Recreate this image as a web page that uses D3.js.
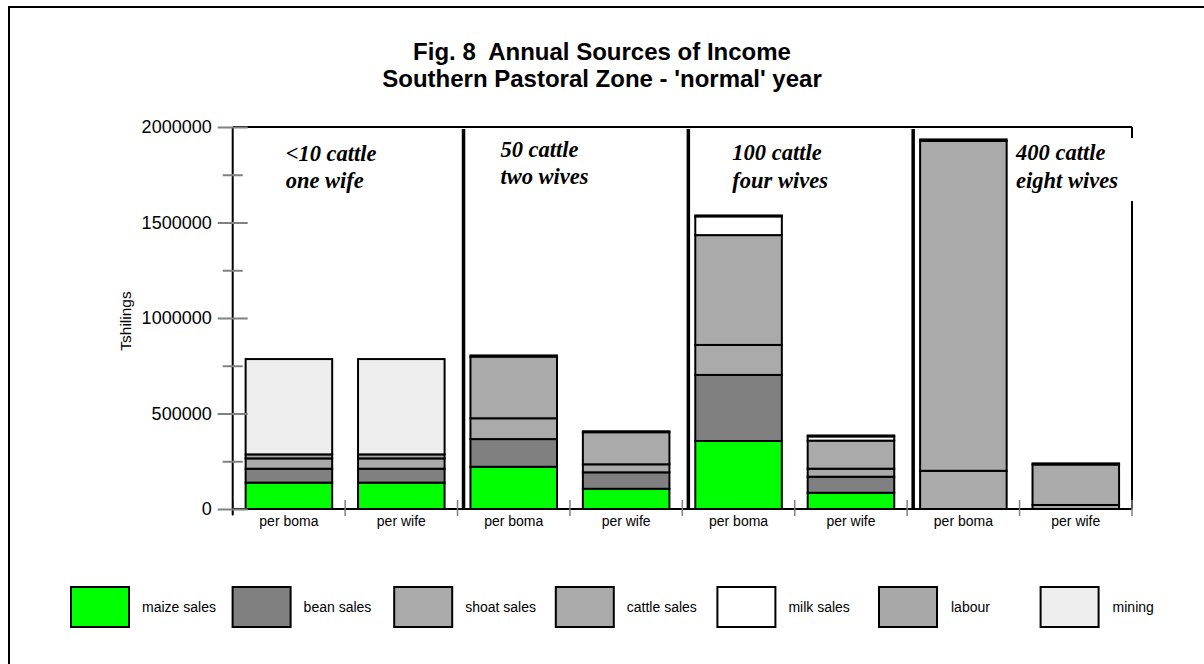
<!DOCTYPE html>
<html>
<head>
<meta charset="utf-8">
<script src="https://cdn.jsdelivr.net/npm/d3@7"></script>
<style>
  html, body { margin: 0; padding: 0; background: #fff; }
  svg { display: block; }
</style>
</head>
<body>
<svg id="chart" width="1204" height="664"></svg>
<script>
// ---------------- data ----------------
const titleLines = ["Fig. 8  Annual Sources of Income", "Southern Pastoral Zone - 'normal' year"];
const yAxisLabel = "Tshilings";
const categories = ["g1-boma", "g1-wife", "g2-boma", "g2-wife", "g3-boma", "g3-wife", "g4-boma", "g4-wife"];
const tickLabels = ["per boma", "per wife", "per boma", "per wife", "per boma", "per wife", "per boma", "per wife"];
const groupLabels = [["<10 cattle", "one wife"], ["50 cattle", "two wives"], ["100 cattle", "four wives"], ["400 cattle", "eight wives"]];
const seriesNames = ["maize sales", "bean sales", "shoat sales", "cattle sales", "milk sales", "labour", "mining"];
const maizeSales  = [138000, 138000, 221000, 106000, 356000, 85000, 0, 0];
const beanSales   = [73000, 73000, 145000, 86000, 346000, 84000, 0, 0];
const shoatSales  = [54000, 54000, 109000, 42000, 157000, 42000, 200000, 21000];
const cattleSales = [0, 0, 323000, 168000, 575000, 147000, 1727000, 212000];
const milkSales   = [0, 0, 6000, 5000, 98000, 22000, 8000, 6000];
const labour      = [21000, 21000, 0, 0, 5000, 5000, 0, 0];
const mining      = [499000, 499000, 0, 0, 0, 0, 0, 0];
const majorTicks = [0, 500000, 1000000, 1500000, 2000000];
const minorTicks = [250000, 750000, 1250000, 1750000];

// ---------------- styles / layout ----------------
const colors = ["#00ff00", "#808080", "#aaaaaa", "#aaaaaa", "#ffffff", "#a8a8a8", "#eeeeee"];
const sans = "'Liberation Sans', Arial, sans-serif";
const serif = "'Liberation Serif', 'Times New Roman', serif";
const plot = { left: 232.7, right: 1132, top: 127, bottom: 509 };
// annotation placement (offset from first bar of group, baselines)
const groupLabelLayout = [
  { dx: 40, y1: 161, y2: 188 },
  { dx: 30, y1: 157, y2: 184 },
  { dx: 37, y1: 160, y2: 188 },
  { dx: 96, y1: 160, y2: 188 }
];

const svg = d3.select("#chart");

// outer frame (left and top visible)
svg.append("path")
  .attr("d", "M9,664 V7 H1204")
  .attr("fill", "none").attr("stroke", "#000").attr("stroke-width", 2);

// title
svg.append("g").selectAll("text").data(titleLines).join("text")
  .attr("x", 602).attr("y", (d, i) => 60 + i * 27)
  .attr("text-anchor", "middle")
  .style("white-space", "pre")
  .attr("font-family", sans).attr("font-weight", "bold").attr("font-size", 24)
  .text(d => d);

// scales
const x = d3.scaleBand().domain(categories).range([plot.left, plot.right])
  .paddingInner(0.23).paddingOuter(0.115);
const y = d3.scaleLinear().domain([0, 2000000]).range([plot.bottom, plot.top]);

// stack
const valueArrays = [maizeSales, beanSales, shoatSales, cattleSales, milkSales, labour, mining];
const table = categories.map((c, i) => {
  const row = { cat: c };
  seriesNames.forEach((s, k) => row[s] = valueArrays[k][i]);
  return row;
});
const stacked = d3.stack().keys(seriesNames)(table);

// plot frame: top and right lines
svg.append("line").attr("x1", plot.left).attr("x2", plot.right)
  .attr("y1", y(2000000)).attr("y2", y(2000000))
  .attr("stroke", "#000").attr("stroke-width", 2);
svg.append("line").attr("x1", plot.right).attr("x2", plot.right)
  .attr("y1", y(2000000)).attr("y2", y(0))
  .attr("stroke", "#000").attr("stroke-width", 2);

// group separators
const step = x.step();
const boundary = c => x(c) - step * x.paddingInner() / 2;
[2, 4, 6].forEach(i => {
  const bx = boundary(categories[i]) + 6;
  svg.append("line").attr("x1", bx).attr("x2", bx)
    .attr("y1", y(2000000) + 2).attr("y2", y(0))
    .attr("stroke", "#000").attr("stroke-width", 3.5);
});

// bars
svg.append("g").selectAll("g").data(stacked).join("g")
  .attr("fill", (d, i) => colors[i])
  .selectAll("rect").data(d => d.filter(p => p[1] - p[0] > 0)).join("rect")
  .attr("x", d => x(d.data.cat))
  .attr("width", x.bandwidth())
  .attr("y", d => y(d[1]))
  .attr("height", d => y(d[0]) - y(d[1]))
  .attr("stroke", "#000").attr("stroke-width", 2);

// x axis baseline
svg.append("line").attr("x1", plot.left).attr("x2", plot.right)
  .attr("y1", y(0)).attr("y2", y(0))
  .attr("stroke", "#000").attr("stroke-width", 2);

// x category boundary ticks
const bounds = categories.map(boundary).concat([plot.right]);
svg.append("g").selectAll("line").data(bounds).join("line")
  .attr("x1", d => d).attr("x2", d => d)
  .attr("y1", y(0) - 9).attr("y2", y(0) + 7)
  .attr("stroke", "#808080").attr("stroke-width", 1.5);

// x labels
const xAxis = svg.append("g").attr("transform", `translate(0,${y(0)})`)
  .call(d3.axisBottom(x).tickSize(0).tickPadding(7).tickFormat((d, i) => tickLabels[i]));
xAxis.select(".domain").remove();
xAxis.selectAll("text").attr("font-family", sans).attr("font-size", 14).attr("fill", "#000");

// y axis line
svg.append("line").attr("x1", plot.left).attr("x2", plot.left)
  .attr("y1", y(2000000)).attr("y2", y(0) + 6)
  .attr("stroke", "#000").attr("stroke-width", 2);

// y major ticks (crossing axis) with labels
const yMajor = svg.append("g").attr("transform", `translate(${plot.left + 15},0)`)
  .call(d3.axisLeft(y).tickValues(majorTicks).tickSize(30).tickPadding(6).tickFormat(d3.format("d")));
yMajor.select(".domain").remove();
yMajor.selectAll(".tick line").attr("stroke", "#808080").attr("stroke-width", 2);
yMajor.selectAll("text").attr("font-family", sans).attr("font-size", 18).attr("fill", "#000");

// y minor ticks
const yMinor = svg.append("g").attr("transform", `translate(${plot.left + 10},0)`)
  .call(d3.axisLeft(y).tickValues(minorTicks).tickSize(20).tickFormat(""));
yMinor.select(".domain").remove();
yMinor.selectAll(".tick line").attr("stroke", "#808080").attr("stroke-width", 2);

// y axis title
svg.append("text")
  .attr("transform", "translate(131,321) rotate(-90)")
  .attr("text-anchor", "middle")
  .attr("font-family", sans).attr("font-size", 15.5)
  .text(yAxisLabel);

// group annotations
groupLabels.forEach((lines, g) => {
  const lay = groupLabelLayout[g];
  const gx = x(categories[g * 2]) + lay.dx;
  if (g === 3) {
    svg.append("rect").attr("x", gx - 4).attr("y", 138)
      .attr("width", 128).attr("height", 63).attr("fill", "#fff");
  }
  [lay.y1, lay.y2].forEach((yy, k) => {
    svg.append("text").attr("x", gx).attr("y", yy)
      .attr("font-family", serif).attr("font-style", "italic").attr("font-weight", "bold")
      .attr("font-size", 22.5)
      .text(lines[k]);
  });
});

// legend
const legendStep = 161.6;
const legend = svg.append("g").selectAll("g").data(seriesNames).join("g")
  .attr("transform", (d, i) => `translate(${71 + i * legendStep},587)`);
legend.append("rect").attr("width", 58).attr("height", 40)
  .attr("fill", (d, i) => colors[i]).attr("stroke", "#000").attr("stroke-width", 2);
legend.append("text").attr("x", (d, i) => i >= 5 ? 72 : 71).attr("y", 20).attr("dy", "0.35em")
  .attr("font-family", sans).attr("font-size", 14)
  .text(d => d);
</script>
</body>
</html>
